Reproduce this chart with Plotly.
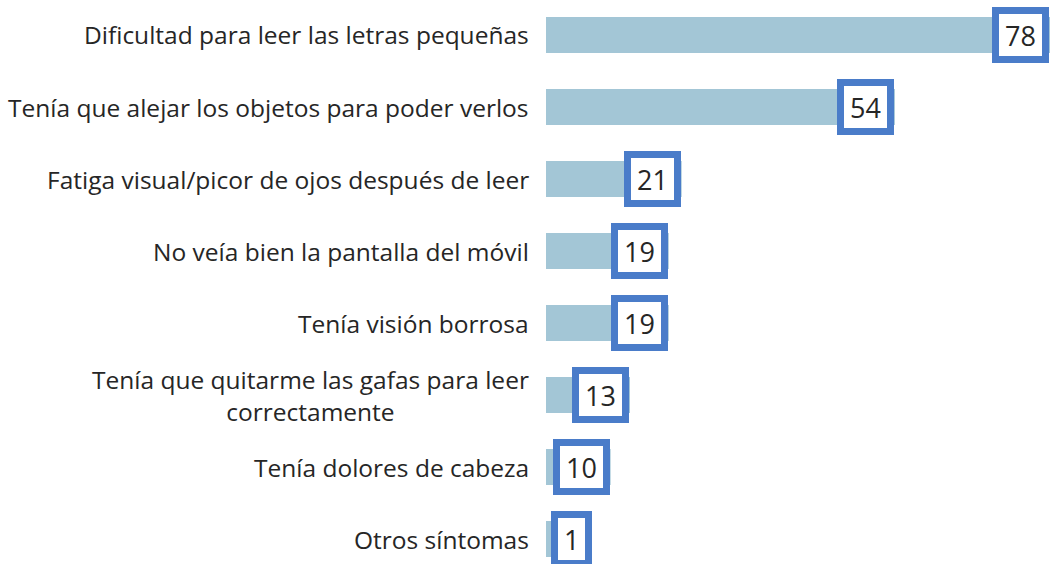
import plotly.graph_objects as go

categories = [
    "Dificultad para leer las letras pequeñas",
    "Tenía que alejar los objetos para poder verlos",
    "Fatiga visual/picor de ojos después de leer",
    "No veía bien la pantalla del móvil",
    "Tenía visión borrosa",
    "Tenía que quitarme las gafas para leer<br>correctamente",
    "Tenía dolores de cabeza",
    "Otros síntomas",
]
values = [78, 54, 21, 19, 19, 13, 10, 1]

BAR_COLOR = "#a3c6d6"
BOX_COLOR = "#4a7cc9"
TEXT_COLOR = "#262626"
FONT = "Open Sans"

fig = go.Figure(go.Bar(
    x=values, y=categories, orientation="h",
    marker=dict(color=BAR_COLOR, line=dict(width=0)),
    width=0.5, hoverinfo="skip",
))

annotations = []
for cat in categories:
    annotations.append(dict(
        x=0, xref="paper", y=cat, yref="y", text=cat, showarrow=False,
        xanchor="right", yanchor="middle", xshift=-15, align="center",
        font=dict(family=FONT, size=24.5, color=TEXT_COLOR),
    ))
for cat, v in zip(categories, values):
    small = v < 5
    annotations.append(dict(
        x=0 if small else v, y=cat, xref="x", yref="y", text=str(v),
        showarrow=False, xanchor="left" if small else "right",
        yanchor="middle", xshift=5 if small else -1,
        font=dict(family=FONT, size=27, color=TEXT_COLOR),
        bgcolor="white", bordercolor=BOX_COLOR, borderwidth=7, borderpad=6,
        height=30,
    ))

fig.update_layout(
    width=1050, height=564,
    margin=dict(l=546, r=0, t=0, b=0),
    paper_bgcolor="white", plot_bgcolor="white",
    showlegend=False, annotations=annotations,
    xaxis=dict(range=[0, 78], visible=False, fixedrange=True),
    yaxis=dict(type="category", categoryorder="array", categoryarray=categories,
               range=[7.347, -0.486], showticklabels=False, showgrid=False,
               zeroline=False, showline=False, ticks="", fixedrange=True),
)

fig.write_html("out.html", config={"displayModeBar": False},
               post_script="document.body.style.margin='0';")
